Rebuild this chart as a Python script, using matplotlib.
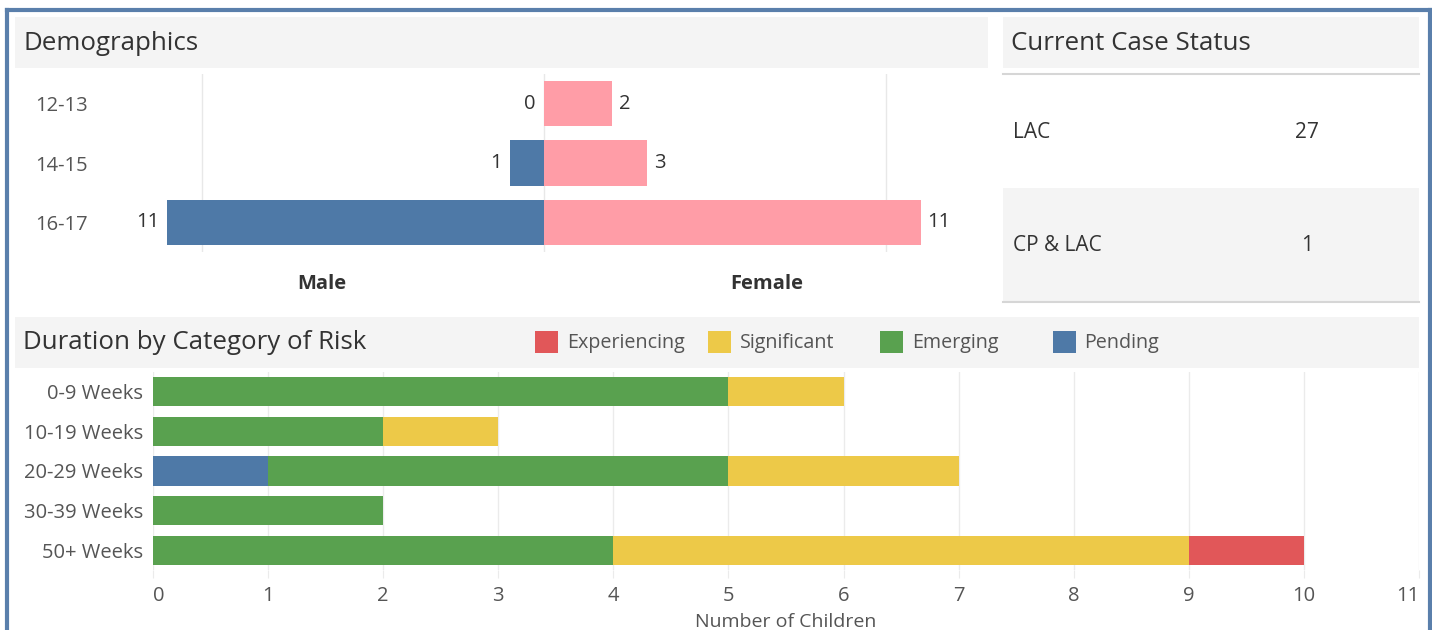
import matplotlib
matplotlib.use('Agg')
import matplotlib.pyplot as plt
from matplotlib.patches import Rectangle
from matplotlib.lines import Line2D

plt.rcParams['font.family'] = ['Open Sans', 'DejaVu Sans']

# dados
faixas_etarias = ['12-13', '14-15', '16-17']
masculino = [0, 1, 11]
feminino = [2, 3, 11]

status_casos = ['LAC', 'CP & LAC']
status_valores = [27, 1]

duracoes = ['0-9 Weeks', '10-19 Weeks', '20-29 Weeks', '30-39 Weeks', '50+ Weeks']
pendente = [0, 0, 1, 0, 0]
emergente = [5, 2, 4, 2, 4]
significativo = [1, 1, 2, 0, 5]
experienciando = [0, 0, 0, 0, 1]

cores = {
    'Experiencing': '#e15759',
    'Significant': '#edc948',
    'Emerging': '#59a14f',
    'Pending': '#4e79a7',
}
cor_masc = '#4e79a7'
cor_fem = '#ff9da7'
cinza_cab = '#f4f4f4'
cor_titulo = '#333333'
cor_texto = '#555555'

# tamanhos de fonte
fs_titulo = 18.6
fs_texto = 14.5

W, H = 1432, 630
fig = plt.figure(figsize=(W / 100, H / 100), dpi=100)


def fx(x):
    return x / W


def fy(y):
    return 1 - y / H


def caixa(x0, y0, x1, y1, cor):
    fig.add_artist(Rectangle((fx(x0), fy(y1)), (x1 - x0) / W, (y1 - y0) / H,
                             transform=fig.transFigure, facecolor=cor,
                             edgecolor='none', zorder=0))


def linha(x0, y0, x1, y1, cor, lw):
    fig.add_artist(Line2D([fx(x0), fx(x1)], [fy(y0), fy(y1)],
                          transform=fig.transFigure, color=cor, lw=lw))


def eixo(x0, y0, x1, y1):
    a = fig.add_axes([fx(x0), fy(y1), (x1 - x0) / W, (y1 - y0) / H])
    a.patch.set_alpha(0)
    for s in a.spines.values():
        s.set_visible(False)
    return a


# moldura azul
linha(6.5, 10, 1429.5, 10, '#5a7fab', 3)
linha(6.5, 10, 6.5, 640, '#5a7fab', 3)
linha(1429.5, 10, 1429.5, 640, '#5a7fab', 3)

# ---- Demographics ----
caixa(15, 17, 988, 68, cinza_cab)
fig.text(fx(23), fy(44), 'Demographics', fontsize=fs_titulo, color=cor_titulo, va='center')

ax1 = eixo(99, 74, 989, 252)
y = list(range(len(faixas_etarias)))
ax1.barh(y, [-m for m in masculino], height=0.76, color=cor_masc, zorder=2)
ax1.barh(y, feminino, height=0.76, color=cor_fem, zorder=2)
for xv in (-10, 0, 10):
    ax1.axvline(xv, color='#e8e8e8', lw=1, zorder=1)
for i in y:
    ax1.annotate(str(masculino[i]), xy=(-masculino[i], i), xytext=(-6, 0),
                 textcoords='offset points', ha='right', va='center',
                 fontsize=fs_texto, color=cor_titulo)
    ax1.annotate(str(feminino[i]), xy=(feminino[i], i), xytext=(5, 0),
                 textcoords='offset points', ha='left', va='center',
                 fontsize=fs_texto, color=cor_titulo)
ax1.set_xlim(-13, 13)
ax1.set_ylim(2.5, -0.5)
ax1.set_yticks(y, faixas_etarias)
for lab in ax1.get_yticklabels():
    lab.set_ha('left')
ax1.tick_params(axis='y', length=0, pad=46, labelsize=fs_texto, labelcolor=cor_texto)
ax1.set_xticks([-6.5, 6.5], ['Male', 'Female'])
ax1.tick_params(axis='x', length=0, pad=15.5, labelsize=fs_texto, labelcolor=cor_titulo)
for lab in ax1.get_xticklabels():
    lab.set_fontweight('bold')

# ---- Current Case Status ----
caixa(1003, 17, 1419, 68, cinza_cab)
fig.text(fx(1011), fy(44), 'Current Case Status', fontsize=fs_titulo,
         color=cor_titulo, va='center')
caixa(1003, 188, 1419, 301, cinza_cab)
linha(1003, 74, 1419, 74, '#d6d6d6', 1.5)
linha(1003, 302, 1419, 302, '#d6d6d6', 1.5)
for i, (nome, val) in enumerate(zip(status_casos, status_valores)):
    yc = 133 + i * 113
    fig.text(fx(1013), fy(yc), nome, fontsize=15, color=cor_titulo, va='center')
    fig.text(fx(1307), fy(yc), str(val), fontsize=15, color=cor_titulo,
             va='center', ha='center')

# ---- Duration by Category of Risk ----
caixa(15, 317, 1419, 368, cinza_cab)
fig.text(fx(23), fy(343), 'Duration by Category of Risk', fontsize=fs_titulo,
         color=cor_titulo, va='center')
for i, nome in enumerate(['Experiencing', 'Significant', 'Emerging', 'Pending']):
    x0 = 535 + 172.5 * i
    caixa(x0, 331, x0 + 23, 353, cores[nome])
    fig.text(fx(x0 + 32), fy(343.5), nome, fontsize=14.2, color=cor_texto, va='center')

ax2 = eixo(153, 372, 1419, 570)
yd = list(range(len(duracoes)))
esquerda = [0] * len(duracoes)
for nome, vals in [('Pending', pendente), ('Emerging', emergente),
                   ('Significant', significativo), ('Experiencing', experienciando)]:
    ax2.barh(yd, vals, left=esquerda, height=0.74, color=cores[nome], zorder=2)
    esquerda = [a + b for a, b in zip(esquerda, vals)]
ax2.set_xlim(0, 11)
ax2.set_ylim(4.5, -0.5)
ax2.set_axisbelow(True)
ax2.grid(axis='x', color='#ebebeb', lw=1)
ax2.set_xticks(range(12))
ax2.set_yticks(yd, duracoes)
ax2.tick_params(axis='y', length=0, pad=7, labelsize=fs_texto, labelcolor=cor_texto)
ax2.tick_params(axis='x', length=6, color='#ebebeb', pad=5.5, labelsize=fs_texto,
                labelcolor=cor_texto)
xl = ax2.get_xticklabels()
xl[0].set_ha('left')
xl[-1].set_ha('right')
ax2.set_xlabel('Number of Children', fontsize=14, color=cor_texto, labelpad=5)

plt.savefig('out.png', dpi=100)
